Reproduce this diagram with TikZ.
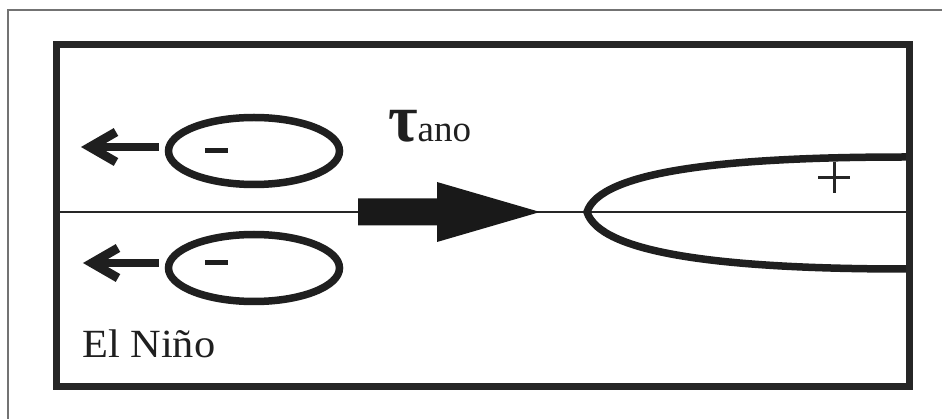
\documentclass[tikz,border=0pt]{standalone}
\usepackage{fontspec}
\setmainfont{Liberation Serif}
\usetikzlibrary{calc,shapes.geometric}
\tikzset{
  frame/.style={line width=7pt, draw=black!85},
  thinframe/.style={line width=1.4pt, draw=black!55},
  axisline/.style={line width=1.3pt, draw=black!85},
  blob/.style={ellipse, draw=black!88, line width=7.5pt, minimum width=171pt, minimum height=67pt, inner sep=0pt},
  bigline/.style={line width=7.5pt, draw=black!88},
  headline/.style={line width=9pt, draw=black!88, line join=miter},
  signline/.style={line width=3pt, draw=black!85},
  lbl/.style={font=\fontsize{40}{40}\selectfont, text=black!88, inner sep=0pt}
}
\begin{document}
\begin{tikzpicture}[x=1pt,y=-1pt]
\useasboundingbox (0,0) rectangle (942,419);
\fill[white] (0,0) rectangle (942,419);
% outer thin frame
\draw[thinframe] (8,419) -- (8,10) -- (942,10);
% centre line
\coordinate (eqL) at (56,212);
\coordinate (eqR) at (909,212);
\draw[axisline] (eqL) -- (eqR);
% ellipses
\node[blob] (up) at (254,151) {};
\node[blob] (lo) at (254,268) {};
% minus signs
\draw[line width=5pt, draw=black!88] ($(up.center)+(-49,0)$) -- ($(up.center)+(-26,0)$);
\draw[line width=5pt, draw=black!88] ($(lo.center)+(-49,-5)$) -- ($(lo.center)+(-26,-5)$);
% westward arrows
\coordinate (tipU) at (90,147);
\coordinate (tipL) at (92,263);
\draw[bigline] (up.west |- tipU) ++(-6,0) -- ($(tipU)+(4,0)$);
\draw[headline] ($(tipU)+(26,-15)$) -- (tipU) -- ($(tipU)+(26,15)$);
\draw[bigline] (lo.west |- tipL) ++(-6,0) -- ($(tipL)+(4,0)$);
\draw[headline] ($(tipL)+(26,-15)$) -- (tipL) -- ($(tipL)+(26,15)$);
% big eastward arrow
\coordinate (btail) at (358,212);
\coordinate (btip) at (540,212);
\fill[black!90] (btail) ++(0,-13.5) -- (437,198.5) -- (437,182) -- (btip) -- (437,242) -- (437,225.5) -- (358,225.5) -- cycle;
% tau label
\node[lbl, anchor=base west] (tau) at (388,142) {\scalebox{1.6}[1.7]{\bfseries τ}\fontsize{37}{37}\selectfont ano};
% parabola
\coordinate (pv) at (587,212);
\coordinate (pu) at (906,157);
\coordinate (pl) at (906,269);
\draw[bigline] (pu) .. controls (720,157) and (600,172) .. (pv) .. controls (600,253) and (720,269) .. (pl);
% plus sign
\draw[signline] (818,178) -- (850,178);
\draw[signline] (834,162) -- (834,193);
% El Nino
\node[lbl, anchor=base west] (nino) at (82,357) {\scalebox{1.06}[1]{El Niño}};
% inner thick frame
\draw[frame] (56,45) rectangle (909,386);
\end{tikzpicture}
\end{document}
